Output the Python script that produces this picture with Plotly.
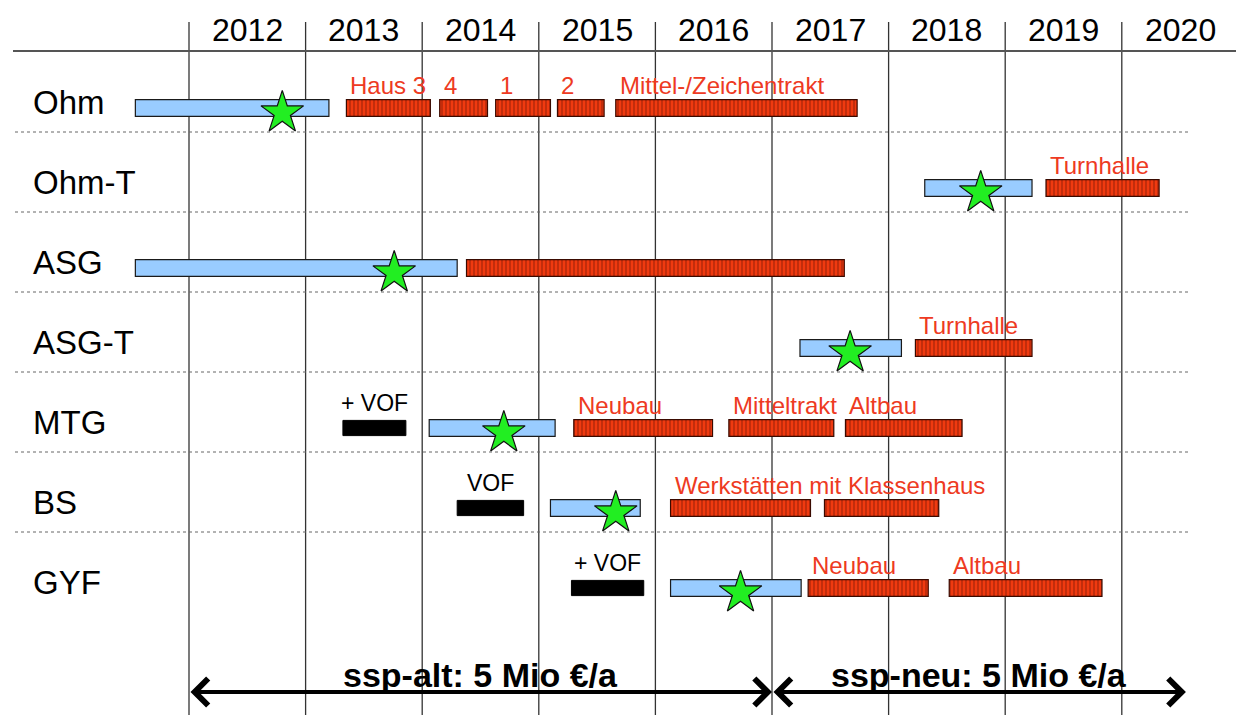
import plotly.graph_objects as go

# ---------------- data ----------------
years = [2012, 2013, 2014, 2015, 2016, 2017, 2018, 2019, 2020]
rows = ["Ohm", "Ohm-T", "ASG", "ASG-T", "MTG", "BS", "GYF"]

# planning phases (light blue) and milestone stars
plan_row = ["Ohm", "Ohm-T", "ASG", "ASG-T", "MTG", "BS", "GYF"]
plan_start = [2011.54, 2018.31, 2011.54, 2017.24, 2014.06, 2015.10, 2016.13]
plan_end = [2013.20, 2019.23, 2014.30, 2018.11, 2015.14, 2015.87, 2017.25]
star_x = [2012.80, 2018.79, 2013.76, 2017.67, 2014.70, 2015.66, 2016.73]

# construction phases (red hatched)
build_row = ["Ohm", "Ohm", "Ohm", "Ohm", "Ohm", "Ohm-T", "ASG", "ASG-T",
             "MTG", "MTG", "MTG", "BS", "BS", "GYF", "GYF"]
build_start = [2013.35, 2014.15, 2014.63, 2015.16, 2015.66, 2019.35, 2014.38, 2018.23,
               2015.30, 2016.63, 2017.63, 2016.13, 2017.45, 2017.31, 2018.52]
build_end = [2014.07, 2014.56, 2015.10, 2015.56, 2017.73, 2020.32, 2017.62, 2019.23,
             2016.49, 2017.53, 2018.63, 2017.33, 2018.43, 2018.34, 2019.83]
build_label = ["Haus 3", "4", "1", "2", "Mittel-/Zeichentrakt", "Turnhalle", "", "Turnhalle",
               "Neubau", "Mitteltrakt", "Altbau", "Werkstätten mit Klassenhaus", "",
               "Neubau", "Altbau"]

# VOF phases (black)
vof_row = ["MTG", "BS", "GYF"]
vof_start = [2013.32, 2014.30, 2015.28]
vof_end = [2013.86, 2014.87, 2015.90]
vof_label = ["+ VOF", "VOF", "+ VOF"]

# funding periods (bottom arrows)
period_label = ["ssp-alt: 5 Mio €/a", "ssp-neu: 5 Mio €/a"]
period_start = [2012.0, 2017.0]
period_end = [2017.0, 2020.55]

# ---------------- figure ----------------
W, H = 1236, 715
FONT = "Liberation Sans, Arial, sans-serif"
ridx = {r: i for i, r in enumerate(rows)}
BAR_W = 0.21

fig = go.Figure()

fig.add_trace(go.Bar(
    orientation="h",
    base=plan_start,
    x=[e - s for s, e in zip(plan_start, plan_end)],
    y=[ridx[r] for r in plan_row],
    width=BAR_W,
    marker=dict(color="#99CCFF", line=dict(color="#1a1a1a", width=1.2)),
    hoverinfo="skip", showlegend=False,
))

fig.add_trace(go.Bar(
    orientation="h",
    base=build_start,
    x=[e - s for s, e in zip(build_start, build_end)],
    y=[ridx[r] for r in build_row],
    width=BAR_W,
    marker=dict(color="#F03A10", line=dict(color="#3a0a00", width=1.2),
                pattern=dict(shape="|", fgcolor="#6e1403", size=4, solidity=0.35)),
    hoverinfo="skip", showlegend=False,
))

fig.add_trace(go.Bar(
    orientation="h",
    base=vof_start,
    x=[e - s for s, e in zip(vof_start, vof_end)],
    y=[ridx[r] for r in vof_row],
    width=0.19,
    marker=dict(color="#000000", line=dict(color="#000000", width=1)),
    hoverinfo="skip", showlegend=False,
))

fig.add_trace(go.Scatter(
    x=star_x,
    y=[ridx[r] + 0.06 for r in plan_row],
    mode="markers",
    marker=dict(symbol="star", size=32, color="#22EE22", line=dict(color="#111111", width=1.2)),
    hoverinfo="skip", showlegend=False,
))

shapes = []
annotations = []

# vertical year boundary lines
for yv in years:
    shapes.append(dict(type="line", xref="x", yref="paper", x0=yv, x1=yv,
                       y0=0, y1=1 - 22 / H, line=dict(color="#333333", width=1.3), layer="below"))

# header line
shapes.append(dict(type="line", xref="paper", yref="paper", x0=13 / W, x1=1,
                   y0=1 - 51 / H, y1=1 - 51 / H, line=dict(color="#555555", width=2)))

# dotted row separators
for i in range(len(rows) - 1):
    shapes.append(dict(type="line", xref="paper", yref="y", x0=15 / W, x1=1190 / W,
                       y0=i + 0.3, y1=i + 0.3, line=dict(color="#666666", width=1, dash="dot"),
                       layer="below"))

# year header labels
for yv in years:
    annotations.append(dict(x=yv + 0.5, y=1 - 30 / H, xref="x", yref="paper", text=str(yv),
                            showarrow=False, font=dict(family=FONT, size=32, color="#000000"),
                            xanchor="center", yanchor="middle"))

# row labels
for r in rows:
    annotations.append(dict(x=31 / W, y=ridx[r], xref="paper", yref="y", text=r, yshift=6,
                            showarrow=False, font=dict(family=FONT, size=33, color="#000000"),
                            xanchor="left", yanchor="middle"))

# construction labels
for r, s, lab in zip(build_row, build_start, build_label):
    if lab:
        annotations.append(dict(x=s, y=ridx[r], xref="x", yref="y", text=lab, yshift=23, xshift=2,
                                showarrow=False, font=dict(family=FONT, size=24, color="#EE3A22"),
                                xanchor="left", yanchor="middle"))

# VOF labels
for r, s, e, lab in zip(vof_row, vof_start, vof_end, vof_label):
    annotations.append(dict(x=(s + e) / 2, y=ridx[r], xref="x", yref="y", text=lab, yshift=25,
                            showarrow=False, font=dict(family=FONT, size=23, color="#000000"),
                            xanchor="center", yanchor="middle"))

# funding period arrows and labels
ARROW_Y = 1 - 692 / H
for lab, s, e in zip(period_label, period_start, period_end):
    annotations.append(dict(x=e, y=ARROW_Y, xref="x", yref="paper", ax=s, ay=0,
                            axref="x", ayref="pixel", text="", showarrow=True,
                            arrowhead=4, startarrowhead=4, arrowside="end+start",
                            arrowwidth=4, arrowsize=1.3, startarrowsize=1.3,
                            arrowcolor="#000000", standoff=0, startstandoff=0))
    annotations.append(dict(x=(s + e) / 2, y=1 - 675 / H, xref="x", yref="paper", text="<b>" + lab + "</b>",
                            showarrow=False, font=dict(family=FONT, size=34, color="#000000"),
                            xanchor="center", yanchor="middle"))

fig.update_layout(
    width=W, height=H,
    margin=dict(l=0, r=0, t=0, b=0),
    paper_bgcolor="#FFFFFF", plot_bgcolor="#FFFFFF",
    barmode="overlay",
    xaxis=dict(range=[2012 - 189 / 116.6, 2012 + (W - 189) / 116.6], visible=False, fixedrange=True),
    yaxis=dict(range=[(H - 108) / 80, -108 / 80], visible=False, fixedrange=True),
    shapes=shapes, annotations=annotations,
    showlegend=False,
)

fig.write_html("out.html", config={"displayModeBar": False},
               post_script="document.body.style.margin='0';document.body.style.overflow='hidden';")
